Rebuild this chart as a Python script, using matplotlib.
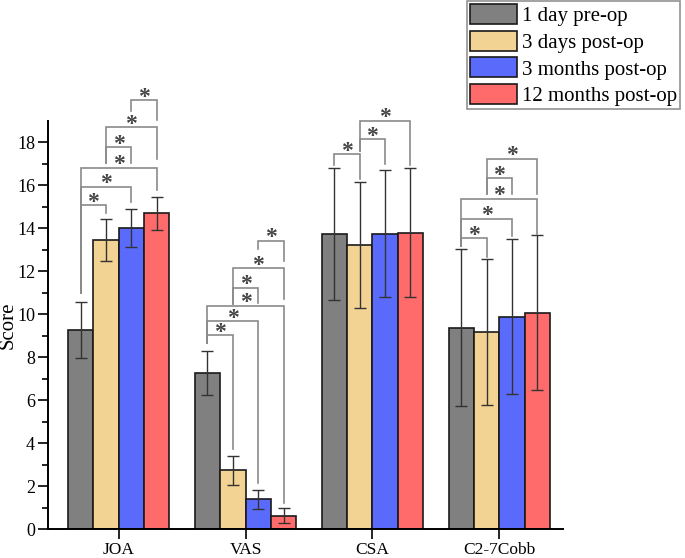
import matplotlib
matplotlib.use("Agg")
import matplotlib.pyplot as plt
import numpy as np
from matplotlib.patches import Patch

plt.rcParams['font.family'] = ['Liberation Serif', 'DejaVu Serif']

categories = ['JOA', 'VAS', 'CSA', 'C2-7Cobb']
series_names = ['1 day pre-op', '3 days post-op', '3 months post-op', '12 months post-op']
colors = ['#808080', '#F2D394', '#5A6BFB', '#FF6B6B']

mean_pre = [9.27, 7.26, 13.72, 9.38]
mean_3d = [13.44, 2.74, 13.22, 9.19]
mean_3m = [14.02, 1.40, 13.75, 9.89]
mean_12m = [14.69, 0.64, 13.80, 10.07]
sd_pre = [1.32, 1.03, 3.08, 3.65]
sd_3d = [0.97, 0.69, 2.92, 3.39]
sd_3m = [0.89, 0.45, 2.97, 3.61]
sd_12m = [0.78, 0.35, 3.02, 3.61]

# significance brackets: (group, bar_i, bar_j, line level, left leg bottom, right leg bottom)
brackets = [
    (0, 0, 1, 15.07, 11.00, 14.70), (0, 0, 2, 15.94, 11.00, 15.20), (0, 0, 3, 16.81, 11.00, 15.78),
    (0, 1, 2, 17.77, 17.05, 17.05), (0, 1, 3, 18.71, 17.05, 17.20), (0, 2, 3, 19.94, 19.46, 19.02),
    (1, 0, 1, 9.02, 8.68, 3.75), (1, 0, 2, 9.69, 8.68, 2.17), (1, 0, 3, 10.39, 8.68, 1.24),
    (1, 1, 2, 11.24, 10.50, 10.54), (1, 1, 3, 12.14, 10.50, 10.70), (1, 2, 3, 13.41, 13.02, 12.48),
    (2, 0, 1, 17.44, 16.93, 16.28), (2, 1, 2, 18.14, 17.60, 16.98), (2, 1, 3, 19.00, 17.60, 16.93),
    (3, 0, 1, 13.53, 13.18, 12.64), (3, 0, 2, 14.44, 13.18, 13.64), (3, 0, 3, 15.38, 13.18, 13.72),
    (3, 1, 2, 16.33, 15.58, 15.58), (3, 1, 3, 17.24, 15.58, 15.58),
]

means = [mean_pre, mean_3d, mean_3m, mean_12m]
sds = [sd_pre, sd_3d, sd_3m, sd_12m]

fig = plt.figure(figsize=(6.85, 5.58), dpi=100)
ax = fig.add_axes([0.0705, 0.0514, 0.7515, 0.7323])

x = np.arange(1, len(categories) + 1)
width = 0.2
offsets = [-0.3, -0.1, 0.1, 0.3]
for k in range(4):
    ax.bar(x + offsets[k], means[k], width=width, color=colors[k],
           edgecolor='#1a1a1a', linewidth=1.2, zorder=2)
    ax.errorbar(x + offsets[k], means[k], yerr=sds[k], fmt='none',
                ecolor='#333333', elinewidth=1.0, capsize=4, capthick=1.0, zorder=3)

for g, i, j, yl, lb, rb in brackets:
    xi = x[g] + offsets[i]
    xj = x[g] + offsets[j]
    ax.plot([xi, xi, xj, xj], [lb, yl, yl, rb], color='#8a8a8a', lw=1.2,
            clip_on=False, zorder=4, solid_joinstyle='miter')
    ax.text((xi + xj) / 2, yl - 0.12, '*', ha='center', va='baseline',
            fontsize=17, fontweight='bold', color='#444444', clip_on=False, zorder=5)

ax.set_xlim(0.445, 4.503)
ax.set_ylim(0, 19)
ax.set_xticks(x)
ax.set_xticklabels(categories, fontsize=12.5)
ax.set_yticks(np.arange(0, 19, 2))
ax.set_yticks(np.arange(1, 19, 2), minor=True)
ax.tick_params(axis='y', which='major', labelsize=13, length=7, width=1.2, direction='out', pad=2.5)
ax.tick_params(axis='y', which='minor', length=4, width=1.2, direction='out')
ax.tick_params(axis='x', which='major', length=7, width=1.2, direction='out', pad=2)
for s in ['top', 'right']:
    ax.spines[s].set_visible(False)
for s in ['left', 'bottom']:
    ax.spines[s].set_linewidth(1.4)
ax.set_ylabel('Score', fontsize=15)
ax.yaxis.set_label_coords(-0.06, 0.5)

handles = [Patch(facecolor=colors[k], edgecolor='#1a1a1a', linewidth=1.2, label=series_names[k])
           for k in range(4)]
leg = fig.legend(handles=handles, loc='upper left', bbox_to_anchor=(466.7 / 685, 1 - 1 / 558),
                 fontsize=15, frameon=True, fancybox=False, edgecolor='#777777',
                 handlelength=2.25, handleheight=1.1, handletextpad=0.25, labelspacing=0.22,
                 borderpad=0.15, borderaxespad=0)
leg.get_frame().set_linewidth(1.2)

fig.savefig('out.png', dpi=100)
